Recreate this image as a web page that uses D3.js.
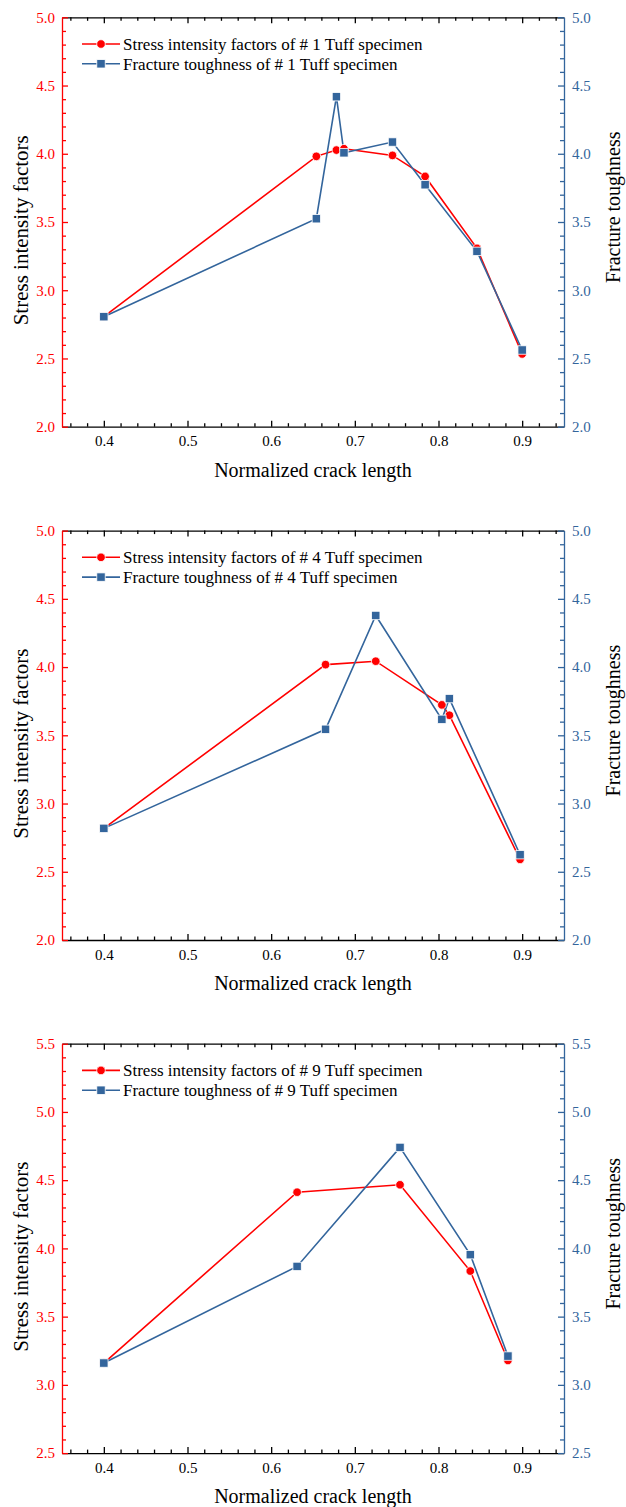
<!DOCTYPE html>
<html>
<head>
<meta charset="utf-8">
<script src="https://cdn.jsdelivr.net/npm/d3@7"></script>
<style>
  body { margin: 0; background: #fff; }
  svg { display: block; }
</style>
</head>
<body>
<svg id="chart" width="626" height="1507"></svg>
<script>
// crack length (normalized) and the two series per specimen
var specimens = ["1", "4", "9"];

var crackLength1 = [0.4, 0.654, 0.678, 0.687, 0.745, 0.784, 0.846, 0.9];
var sif1 = [2.806, 3.981, 4.027, 4.037, 3.988, 3.834, 3.307, 2.533];
var ft1 = [2.806, 3.524, 4.418, 4.007, 4.086, 3.773, 3.285, 2.562];

var crackLength4 = [0.4, 0.665, 0.725, 0.804, 0.813, 0.8975];
var sif4 = [2.818, 4.018, 4.043, 3.723, 3.647, 2.591];
var ft4 = [2.818, 3.544, 4.378, 3.617, 3.769, 2.625];

var crackLength9 = [0.4, 0.631, 0.754, 0.838, 0.883];
var sif9 = [3.160, 4.412, 4.466, 3.834, 3.179];
var ft9 = [3.160, 3.868, 4.740, 3.954, 3.211];

var xDomain = [0.35, 0.95];
var xTicks = [0.4, 0.5, 0.6, 0.7, 0.8, 0.9];
var yDomains = [[2.0, 5.0], [2.0, 5.0], [2.5, 5.5]];

var allX = [crackLength1, crackLength4, crackLength9];
var allSif = [sif1, sif4, sif9];
var allFt = [ft1, ft4, ft9];

var RED = "#ff0000", BLUE = "#33659c";
var SERIF = "'Liberation Serif', 'Times New Roman', serif";
var svg = d3.select("#chart");

var left = 62, right = 564, plotH = 409.4;
var tops = [17.3, 530.6, 1043.7];

function range(a, b, step) {
  var out = [];
  for (var v = a; v <= b + 1e-9; v += step) out.push(+v.toFixed(4));
  return out;
}

specimens.forEach(function(spec, i) {
  var top = tops[i], bottom = top + plotH;
  var x = d3.scaleLinear().domain(xDomain).range([left, right]);
  var y = d3.scaleLinear().domain(yDomains[i]).range([bottom, top]);
  var g = svg.append("g");

  var xMinor = range(0.36, 0.94, 0.02).filter(function(v){ return xTicks.indexOf(v) < 0; });
  var yMajor = range(yDomains[i][0], yDomains[i][1], 0.5);
  var yMinor = range(yDomains[i][0], yDomains[i][1], 0.1).filter(function(v){
    return yMajor.indexOf(v) < 0; });

  // bottom axis
  g.append("g").attr("transform", "translate(0," + bottom + ")")
    .call(d3.axisBottom(x).tickValues(xTicks).tickFormat(d3.format(".1f"))
      .tickSizeInner(-6).tickSizeOuter(0).tickPadding(9));
  g.append("g").attr("transform", "translate(0," + bottom + ")")
    .call(d3.axisBottom(x).tickValues(xMinor).tickFormat("").tickSizeInner(-3.5).tickSizeOuter(0))
    .select(".domain").remove();
  // top axis
  g.append("g").attr("transform", "translate(0," + top + ")")
    .call(d3.axisTop(x).tickValues(xTicks).tickFormat("").tickSizeInner(-6).tickSizeOuter(0));
  g.append("g").attr("transform", "translate(0," + top + ")")
    .call(d3.axisTop(x).tickValues(xMinor).tickFormat("").tickSizeInner(-3.5).tickSizeOuter(0))
    .select(".domain").remove();

  // left axis (red)
  g.append("g").attr("class", "yl").attr("transform", "translate(" + left + ",0)")
    .call(d3.axisLeft(y).tickValues(yMajor).tickFormat(d3.format(".1f"))
      .tickSizeInner(-6).tickSizeOuter(0).tickPadding(7));
  g.append("g").attr("class", "yl").attr("transform", "translate(" + left + ",0)")
    .call(d3.axisLeft(y).tickValues(yMinor).tickFormat("").tickSizeInner(-4).tickSizeOuter(0))
    .select(".domain").remove();
  // right axis (blue)
  g.append("g").attr("class", "yr").attr("transform", "translate(" + right + ",0)")
    .call(d3.axisRight(y).tickValues(yMajor).tickFormat(d3.format(".1f"))
      .tickSizeInner(-6).tickSizeOuter(0).tickPadding(8));
  g.append("g").attr("class", "yr").attr("transform", "translate(" + right + ",0)")
    .call(d3.axisRight(y).tickValues(yMinor).tickFormat("").tickSizeInner(-4).tickSizeOuter(0))
    .select(".domain").remove();

  g.selectAll("text").attr("font-size", 15);
  g.selectAll(".domain, .tick line").attr("stroke", "#000").attr("stroke-width", 1.3);
  g.selectAll(".tick text").attr("fill", "#000");
  g.selectAll(".yl .domain, .yl .tick line").attr("stroke", RED);
  g.selectAll(".yl .tick text").attr("fill", RED);
  g.selectAll(".yr .domain, .yr .tick line").attr("stroke", BLUE);
  g.selectAll(".yr .tick text").attr("fill", BLUE);

  // axis titles
  g.append("text").attr("x", (left + right) / 2).attr("y", bottom + 50)
    .attr("text-anchor", "middle").attr("font-size", 20).text("Normalized crack length");
  g.append("text").attr("transform", "translate(28," + (top + 213) + ") rotate(-90)")
    .attr("text-anchor", "middle").attr("font-size", 21).text("Stress intensity factors");
  g.append("text").attr("transform", "translate(620," + (top + 190) + ") rotate(-90)")
    .attr("text-anchor", "middle").attr("font-size", 20).text("Fracture toughness");

  // series
  var xs = allX[i];
  var sifPts = xs.map(function(v, k){ return [v, allSif[i][k]]; });
  var ftPts = xs.map(function(v, k){ return [v, allFt[i][k]]; });
  var line = d3.line().x(function(d){ return x(d[0]); }).y(function(d){ return y(d[1]); });

  g.append("path").datum(sifPts).attr("d", line)
    .attr("fill", "none").attr("stroke", RED).attr("stroke-width", 1.6);
  g.append("path").datum(ftPts).attr("d", line)
    .attr("fill", "none").attr("stroke", BLUE).attr("stroke-width", 1.6);

  g.selectAll(".sif").data(sifPts).enter().append("circle")
    .attr("cx", function(d){ return x(d[0]); }).attr("cy", function(d){ return y(d[1]); })
    .attr("r", 4.3).attr("fill", RED).attr("stroke", "#fff").attr("stroke-width", 0.8);
  g.selectAll(".ft").data(ftPts).enter().append("rect")
    .attr("x", function(d){ return x(d[0]) - 4.2; }).attr("y", function(d){ return y(d[1]) - 4.2; })
    .attr("width", 8.4).attr("height", 8.4).attr("fill", BLUE).attr("stroke", "#fff").attr("stroke-width", 0.8);

  // legend
  var lg = g.append("g").attr("transform", "translate(0," + top + ")");
  var items = [
    {label: "Stress intensity factors of # " + spec + " Tuff specimen", color: RED, shape: "circle", dy: 26.7},
    {label: "Fracture toughness of # " + spec + " Tuff specimen", color: BLUE, shape: "square", dy: 46.5}
  ];
  items.forEach(function(it) {
    lg.append("line").attr("x1", 82).attr("x2", 120).attr("y1", it.dy).attr("y2", it.dy)
      .attr("stroke", it.color).attr("stroke-width", 1.6);
    if (it.shape == "circle") {
      lg.append("circle").attr("cx", 101).attr("cy", it.dy).attr("r", 4.3)
        .attr("fill", it.color).attr("stroke", "#fff").attr("stroke-width", 0.8);
    } else {
      lg.append("rect").attr("x", 96.8).attr("y", it.dy - 4.2).attr("width", 8.4).attr("height", 8.4)
        .attr("fill", it.color).attr("stroke", "#fff").attr("stroke-width", 0.8);
    }
    lg.append("text").attr("x", 123).attr("y", it.dy).attr("dy", "0.35em")
      .attr("font-size", 17).attr("fill", "#000").text(it.label);
  });

  g.selectAll("text").style("font-family", SERIF);
});
</script>
</body>
</html>
